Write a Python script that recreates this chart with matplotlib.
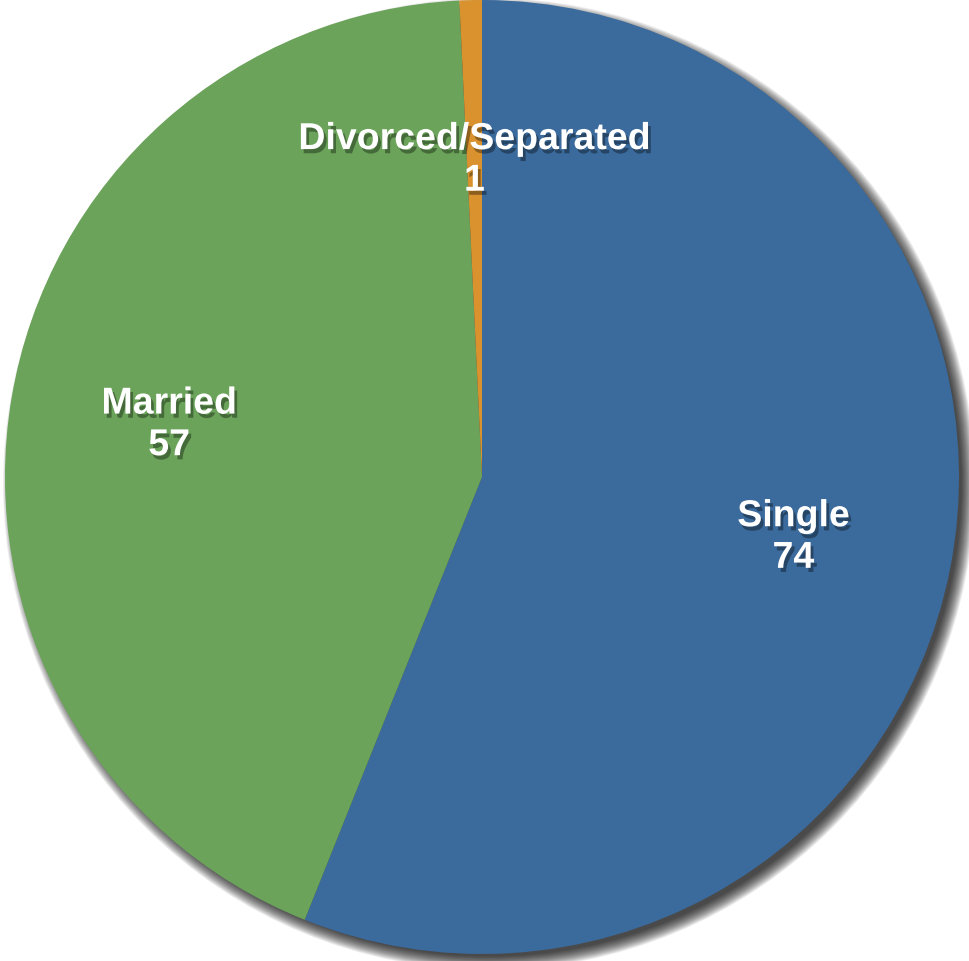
import matplotlib.pyplot as plt
import matplotlib.patheffects as pe
from matplotlib.patches import Circle

categories = ["Single", "Married", "Divorced/Separated"]
counts = [74, 57, 1]
colors = ["#3B6A9C", "#6BA35A", "#D9922E"]

W, H = 970, 961
cx, cy, r = 482, H - 477, 477

fig = plt.figure(figsize=(W / 100, H / 100), dpi=100)
ax = fig.add_axes([0, 0, 1, 1])

# soft drop shadow under the pie, pushed toward bottom-right
n = 16
for i in range(n):
    ax.add_patch(Circle((cx + 7, cy - 7), r + 9 - i * 0.9, color="#000000",
                        alpha=0.07, lw=0, zorder=0))

labels = [f"{c}\n{v}" for c, v in zip(categories, counts)]
wedges, texts = ax.pie(counts, labels=labels, colors=colors, startangle=90,
                       counterclock=False, center=(cx, cy), radius=r,
                       labeldistance=0.665,
                       wedgeprops=dict(linewidth=0, zorder=2),
                       textprops=dict(color="white", fontsize=27, fontweight="bold",
                                      family="Liberation Sans", linespacing=1.2))
for t in texts:
    t.set_ha("center")
    t.set_va("center")
    t.set_zorder(5)
    t.set_path_effects([pe.SimplePatchShadow(offset=(2, -3), shadow_rgbFace="black",
                                             alpha=0.35), pe.Normal()])

ax.set_xlim(0, W)
ax.set_ylim(0, H)
ax.set_aspect("auto")
ax.axis("off")

fig.savefig("out.png", dpi=100)
